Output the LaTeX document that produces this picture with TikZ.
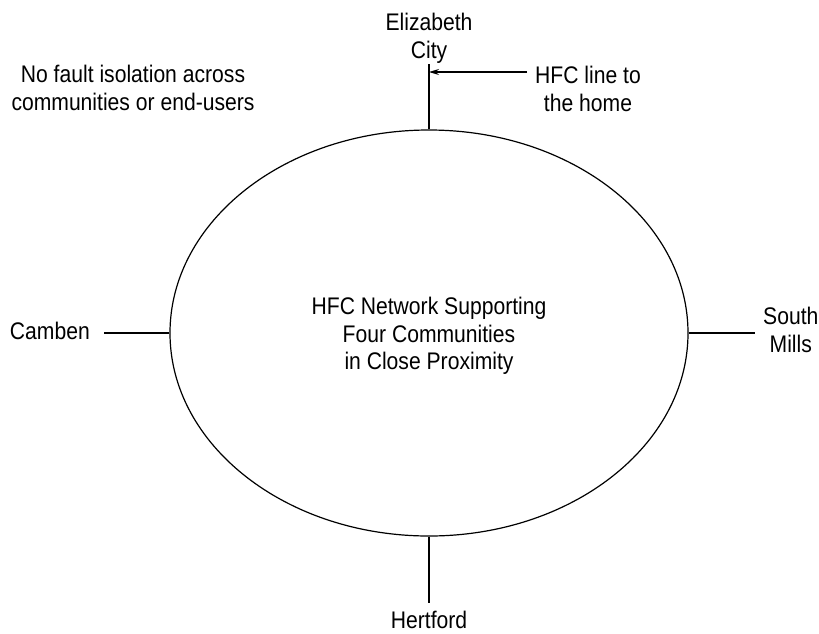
\documentclass[tikz,border=0pt]{standalone}
\usepackage{fontspec}
\setmainfont[FakeStretch=0.88]{Liberation Sans}
\usetikzlibrary{shapes.geometric,arrows.meta}
\begin{document}
\begin{tikzpicture}[x=1pt,y=-1pt,
  lbl/.style={inner sep=0pt, align=center, font=\fontsize{24}{27.5}\selectfont},
  wire/.style={line width=1.2pt, black},
  ptr/.style={wire, -{Stealth[length=10pt,width=6pt]}}]
\useasboundingbox (0,0) rectangle (819,633);
\node[ellipse, draw, line width=1.2pt, inner sep=0pt, minimum width=518pt, minimum height=406pt] (net) at (429,333) {};
\node[lbl, anchor=north] (nettext) at (429,297) {HFC Network Supporting\\Four Communities\\in Close Proximity};
\node[lbl, anchor=north] (eliz) at (429,13) {Elizabeth\\City};
\node[lbl, anchor=north west] (hfcl) at (535,66) {HFC line to\\the home};
\node[lbl, anchor=north] (nofault) at (133,65) {No fault isolation across\\communities or end-users};
\node[lbl, anchor=east] (camben) at (90,331) {Camben};
\node[lbl, anchor=north west] (south) at (763,307) {South\\Mills};
\node[lbl, anchor=north] (hert) at (429,611) {Hertford};
\coordinate (topend) at (429,64);
\coordinate (arrstart) at (527,72);
\coordinate (leftend) at (104,333);
\coordinate (rightend) at (755,333);
\coordinate (botend) at (429,603);
\draw[wire] (net.north) -- (topend);
\draw[ptr] (arrstart) -- (topend |- arrstart);
\draw[wire] (net.west) -- (leftend);
\draw[wire] (net.east) -- (rightend);
\draw[wire] (net.south) -- (botend);
\end{tikzpicture}
\end{document}
